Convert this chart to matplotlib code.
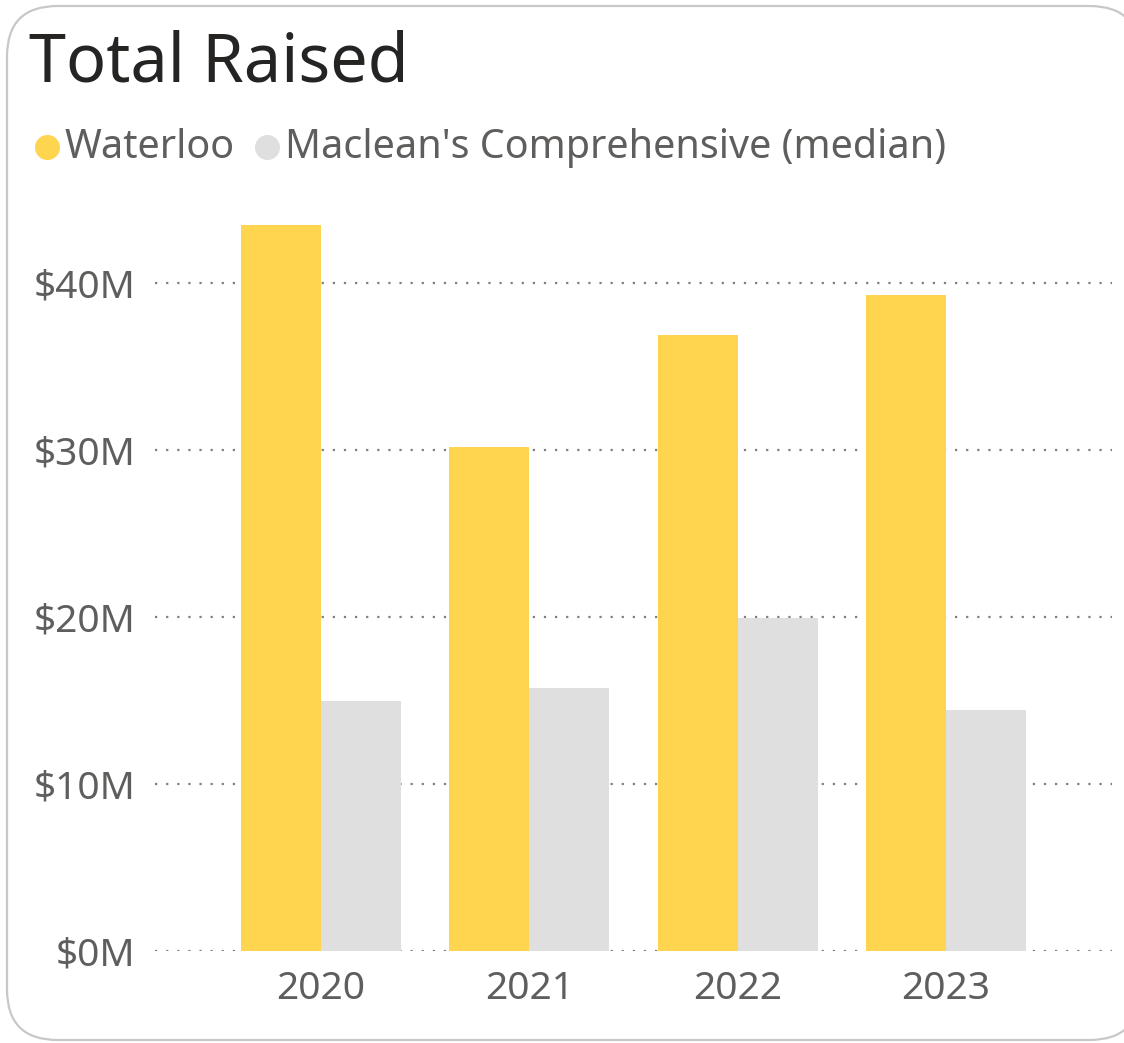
import matplotlib
matplotlib.use("Agg")
import matplotlib.pyplot as plt
from matplotlib.patches import FancyBboxPatch
from matplotlib.lines import Line2D
from matplotlib.ticker import FuncFormatter
import numpy as np

years = ["2020", "2021", "2022", "2023"]
waterloo = [43.5, 30.2, 36.9, 39.3]
maclean = [15.0, 15.75, 19.95, 14.45]
series_names = ["Waterloo", "Maclean's Comprehensive (median)"]
yticks = [0, 10, 20, 30, 40]

YELLOW = "#FFD54F"
GREY = "#DFDFDF"
TEXT = "#605E5C"

plt.rcParams['font.family'] = ['Noto Sans', 'DejaVu Sans']

fig = plt.figure(figsize=(11.24, 10.43), dpi=100)
W, H = 1124, 1043

# card border
card = FancyBboxPatch((7 / W, 3 / H), (1140 - 7) / W, (1037 - 3) / H,
                      boxstyle="round,pad=0,rounding_size=0.045",
                      transform=fig.transFigure, facecolor="white",
                      edgecolor="#C8C8C8", linewidth=1.6, zorder=-5,
                      mutation_aspect=W / H)
fig.patches.append(card)

ax = fig.add_axes([155 / W, (H - 951) / H, (1112 - 155) / W, (951 - 199.5) / H])
ax.set_zorder(2)
ax.set_facecolor("none")

x = np.arange(len(years))
bw = 0.384
ax.bar(x - bw / 2, waterloo, width=bw, color=YELLOW, zorder=2)
ax.bar(x + bw / 2, maclean, width=bw, color=GREY, zorder=2)

ax.set_xlim(-0.797, 3.797)
ax.set_ylim(0, 45)
ax.set_yticks(yticks)
ax.yaxis.set_major_formatter(FuncFormatter(lambda v, p: f"${int(v)}M"))
ax.set_xticks(x)
ax.set_xticklabels(years)
ax.tick_params(axis="both", length=0, labelsize=28, labelcolor=TEXT)
ax.tick_params(axis="x", pad=14)
ax.tick_params(axis="y", pad=14)
for s in ax.spines.values():
    s.set_visible(False)
ax.yaxis.grid(True, linestyle=(0, (1, 4)), linewidth=1.6, color="#7F7F7F", zorder=1)
ax.set_axisbelow(True)

# title
fig.text(29 / W, 1 - 63 / H, "Total Raised", fontsize=48, color="#252423",
         va="center", ha="left", zorder=3)

# legend
fig.add_artist(Line2D([47 / W], [1 - 147 / H], marker="o", markersize=17,
                      color=YELLOW, transform=fig.transFigure, linestyle="none", zorder=3))
fig.text(65 / W, 1 - 148 / H, series_names[0], fontsize=28.5, color=TEXT,
         va="center", ha="left", zorder=3)
fig.add_artist(Line2D([267 / W], [1 - 147 / H], marker="o", markersize=17,
                      color=GREY, transform=fig.transFigure, linestyle="none", zorder=3))
fig.text(285 / W, 1 - 148 / H, series_names[1], fontsize=28.5, color=TEXT,
         va="center", ha="left", zorder=3)

fig.savefig("out.png", dpi=100)
